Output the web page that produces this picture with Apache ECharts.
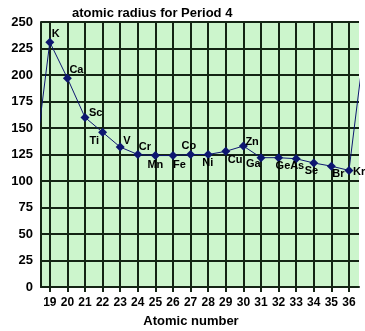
<!DOCTYPE html>
<html>
<head>
<meta charset="utf-8">
<script src="https://cdn.jsdelivr.net/npm/echarts@6/dist/echarts.min.js"></script>
<style>
html,body{margin:0;padding:0;background:#fff;}
#c{width:365px;height:331px;}
</style>
</head>
<body>
<div id="c"></div>
<script>
// ---- data ----
var atomicNumbers = [19, 20, 21, 22, 23, 24, 25, 26, 27, 28, 29, 30, 31, 32, 33, 34, 35, 36];
var symbols = ['K', 'Ca', 'Sc', 'Ti', 'V', 'Cr', 'Mn', 'Fe', 'Co', 'Ni', 'Cu', 'Zn', 'Ga', 'Ge', 'As', 'Se', 'Br', 'Kr'];
var radii = [231, 197, 160, 146, 132, 125, 124, 124, 125, 125, 128, 133, 122, 122, 121, 117, 114, 110];
// neighbouring elements whose lines run off the plot edges
var leftNeighbour = [18, 98];   // Ar
var rightNeighbour = [37, 244]; // Rb
var xTicks = [19, 20, 21, 22, 23, 24, 25, 26, 27, 28, 29, 30, 31, 32, 33, 34, 35, 36];

// ---- label placement (style only): offset of label's top-left from point ----
var labelOffsets = {
  K: [2, -14], Ca: [2, -14], Sc: [4, -10], Ti: [-13, 3], V: [3, -12], Cr: [1, -13],
  Mn: [-8, 4], Fe: [0, 4], Co: [-9, -14], Ni: [-6, 3], Cu: [2, 3], Zn: [2, -10],
  Ga: [-15, 1], Ge: [-3, 3], As: [-6, 2], Se: [-9, 2], Br: [1, 2], Kr: [4, -4]
};

var pts = [];
pts.push({ value: leftNeighbour, symbol: 'none', label: { show: false } });
for (var i = 0; i < atomicNumbers.length; i++) {
  var off = labelOffsets[symbols[i]] || [2, -12];
  pts.push({
    value: [atomicNumbers[i], radii[i]],
    name: symbols[i],
    label: { show: true, position: 'inside', offset: off, align: 'left', verticalAlign: 'top' }
  });
}
pts.push({ value: rightNeighbour, symbol: 'none', label: { show: false } });

var bold = '"Liberation Sans", Arial, sans-serif';
var gridColor = '#142414';

var chart = echarts.init(document.getElementById('c'), null, { renderer: 'canvas' });
chart.setOption({
  animation: false,
  backgroundColor: '#ffffff',
  title: {
    text: 'atomic radius for Period 4',
    left: 67, top: 2,
    textStyle: { fontFamily: bold, fontWeight: 'bold', fontSize: 13, color: '#000' }
  },
  grid: {
    left: 41, right: 6, top: 22, bottom: 44,
    containLabel: false,
    outerBoundsMode: 'none',
    show: true, backgroundColor: '#ccf5cc', borderWidth: 0
  },
  xAxis: {
    type: 'value',
    min: 18.5, max: 36.57,
    name: 'Atomic number',
    nameLocation: 'middle',
    nameGap: 28,
    nameTextStyle: { fontFamily: bold, fontWeight: 'bold', fontSize: 13, color: '#000', padding: [0, 18, 0, 0] },
    axisLine: { show: true, onZero: false, lineStyle: { color: gridColor, width: 2 } },
    axisTick: { show: true, customValues: xTicks, length: 5, inside: false, lineStyle: { color: gridColor, width: 2 } },
    axisLabel: { show: true, customValues: xTicks, margin: 10, hideOverlap: false, showMinLabel: true, showMaxLabel: true,
      fontFamily: bold, fontWeight: 'bold', fontSize: 12, color: '#000' },
    splitLine: { show: true, lineStyle: { color: gridColor, width: 2 } }
  },
  yAxis: {
    type: 'value',
    min: 0, max: 250, interval: 25,
    name: 'Atomic radius (in picometres)',
    nameLocation: 'middle',
    nameGap: 25,
    nameTextStyle: { fontFamily: bold, fontWeight: 'bold', fontSize: 13, color: '#000' },
    axisLine: { show: true, lineStyle: { color: gridColor, width: 2 } },
    axisTick: { show: false },
    axisLabel: { margin: 8, fontFamily: bold, fontWeight: 'bold', fontSize: 13, color: '#000' },
    splitLine: { show: true, lineStyle: { color: gridColor, width: 2 } }
  },
  series: [{
    type: 'line',
    data: pts,
    clip: true,
    symbol: 'diamond',
    symbolSize: 9,
    itemStyle: { color: '#0d1670' },
    lineStyle: { color: '#0d1670', width: 1 },
    label: {
      show: true,
      formatter: function (p) { return p.name || ''; },
      fontFamily: bold, fontWeight: 'bold', fontSize: 11, color: '#000'
    }
  }]
});
</script>
</body>
</html>
